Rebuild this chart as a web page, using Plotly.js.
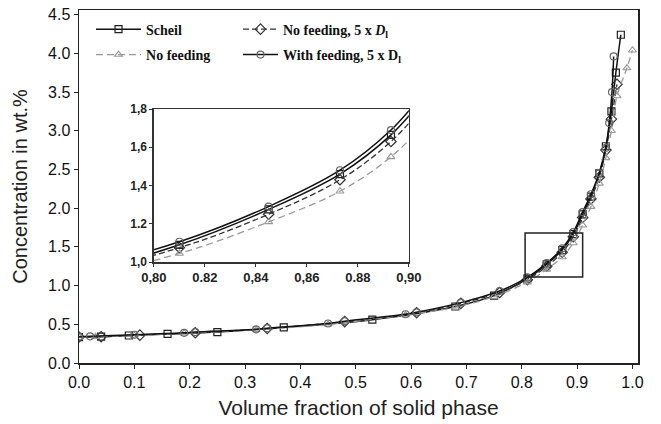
<!DOCTYPE html>
<html>
<head>
<meta charset="utf-8">
<script src="https://cdn.plot.ly/plotly-3.0.1.min.js"></script>
<style>html,body{margin:0;padding:0;background:#fff}#chart{width:661px;height:424px}</style>
</head>
<body>
<div id="chart"></div>
<script>
// ---- data ----
const scheilX = [0.0, 0.04, 0.09, 0.16, 0.25, 0.37, 0.53, 0.68, 0.75, 0.81, 0.845, 0.873, 0.893, 0.91, 0.925, 0.94, 0.952, 0.962, 0.97, 0.979];
const scheilY = [0.335, 0.34, 0.355, 0.375, 0.40, 0.46, 0.56, 0.73, 0.87, 1.09, 1.275, 1.46, 1.665, 1.92, 2.15, 2.45, 2.80, 3.25, 3.75, 4.24];

const feedX = [0.0, 0.02, 0.10, 0.19, 0.21, 0.32, 0.34, 0.45, 0.48, 0.59, 0.61, 0.69, 0.76, 0.81, 0.845, 0.873, 0.893, 0.91, 0.925, 0.94, 0.952, 0.958, 0.963, 0.966];
const feedY = [0.34, 0.345, 0.365, 0.39, 0.40, 0.435, 0.45, 0.51, 0.54, 0.63, 0.655, 0.78, 0.93, 1.106, 1.29, 1.48, 1.69, 1.95, 2.18, 2.45, 2.78, 3.10, 3.50, 3.96];

const nf5X = [0.0, 0.04, 0.11, 0.21, 0.34, 0.48, 0.61, 0.69, 0.76, 0.81, 0.845, 0.873, 0.893, 0.91, 0.925, 0.94, 0.952, 0.962, 0.972];
const nf5Y = [0.335, 0.34, 0.36, 0.39, 0.445, 0.535, 0.65, 0.77, 0.91, 1.075, 1.25, 1.43, 1.63, 1.88, 2.12, 2.40, 2.75, 3.15, 3.60];

const nfX = [0.0, 0.03, 0.10, 0.19, 0.32, 0.45, 0.59, 0.68, 0.75, 0.81, 0.845, 0.873, 0.893, 0.91, 0.925, 0.94, 0.952, 0.962, 0.972, 0.99, 1.0];
const nfY = [0.33, 0.34, 0.355, 0.385, 0.43, 0.50, 0.62, 0.72, 0.86, 1.045, 1.21, 1.37, 1.55, 1.78, 2.02, 2.32, 2.65, 3.00, 3.45, 3.81, 4.04];

const names = ['Scheil', 'No feeding, 5 x <i>D</i><sub>l</sub>', 'No feeding', 'With feeding, 5 x D<sub>l</sub>'];

const xTicks = [0, 0.1, 0.2, 0.3, 0.4, 0.5, 0.6, 0.7, 0.8, 0.9, 1.0];
const yTicks = [0, 0.5, 1.0, 1.5, 2.0, 2.5, 3.0, 3.5, 4.0, 4.5];
const insetXTicks = [0.80, 0.82, 0.84, 0.86, 0.88, 0.90];
const insetXText = ['0,80', '0.82', '0,84', '0,86', '0.88', '0,90'];
const insetYTicks = [1.0, 1.2, 1.4, 1.6, 1.8];
const insetYText = ['1,0', '1.2', '1,4', '1,6', '1,8'];
const zoomBoxX = [0.806, 0.91];
const zoomBoxY = [1.11, 1.68];

// ---- styles ----
const styles = [
  {line: {color: '#111', width: 1.5, dash: 'solid', shape: 'spline'}, marker: {symbol: 'square-open', size: 7, color: '#222', line: {width: 1.2}}, legend: 'legend'},
  {line: {color: '#333', width: 1.3, dash: '6px,3px', shape: 'spline'}, marker: {symbol: 'diamond-open', size: 8, color: '#333', line: {width: 1.2}}, legend: 'legend3'},
  {line: {color: '#999', width: 1.3, dash: '7px,4px', shape: 'spline'}, marker: {symbol: 'triangle-up-open', size: 7, color: '#999', line: {width: 1.1}}, legend: 'legend2'},
  {line: {color: '#111', width: 1.5, dash: 'solid', shape: 'spline'}, marker: {symbol: 'circle-open', size: 7, color: '#666', line: {width: 1.2}}, legend: 'legend4'}
];
const series = [[scheilX, scheilY], [nf5X, nf5Y], [nfX, nfY], [feedX, feedY]];

const traces = [];
series.forEach((s, i) => {
  traces.push({x: s[0], y: s[1], name: names[i], mode: 'lines+markers', type: 'scatter',
    line: styles[i].line, marker: styles[i].marker, legend: styles[i].legend, xaxis: 'x', yaxis: 'y'});
});
series.forEach((s, i) => {
  traces.push({x: s[0], y: s[1], name: names[i], mode: 'lines+markers', type: 'scatter', showlegend: false,
    line: styles[i].line, marker: styles[i].marker, xaxis: 'x2', yaxis: 'y2'});
});

const sans = 'Liberation Sans, Arial, sans-serif';
const axFont = {family: sans, size: 16, color: '#111'};
const insetXFont = {family: sans, size: 13, color: '#222', weight: 'bold'};
const insetYFont = {family: sans, size: 12, color: '#222', weight: 'bold'};
const legFont = {family: 'Liberation Serif, Times New Roman, serif', size: 14, color: '#111', weight: 'bold'};

function leg(x, y, iw) {
  return {x: x, y: y, xanchor: 'left', yanchor: 'top', orientation: 'v', bgcolor: 'rgba(0,0,0,0)', font: legFont, itemwidth: iw};
}

const layout = {
  width: 661, height: 424,
  margin: {l: 79, r: 23, t: 10, b: 61},
  paper_bgcolor: '#fff', plot_bgcolor: '#fff',
  showlegend: true,
  xaxis: {range: [0, 1.01], tickvals: xTicks, tickformat: '.1f', showgrid: false, zeroline: false,
    showline: true, mirror: true, linecolor: '#222', linewidth: 1.5, ticks: 'outside', ticklen: 4, tickcolor: '#222',
    tickfont: axFont, title: {text: 'Volume fraction of solid phase', font: {family: sans, size: 21, color: '#222'}, standoff: 10}},
  yaxis: {range: [0, 4.56], tickvals: yTicks, tickformat: '.1f', showgrid: false, zeroline: false,
    showline: true, mirror: true, linecolor: '#222', linewidth: 1.5, ticks: 'outside', ticklen: 4, tickcolor: '#222',
    tickfont: axFont, title: {text: 'Concentration in wt.%', font: {family: sans, size: 20, color: '#222'}, standoff: 15}},
  xaxis2: {domain: [0.134, 0.590], anchor: 'y2', range: [0.8, 0.9], tickvals: insetXTicks, ticktext: insetXText,
    showgrid: false, zeroline: false, showline: true, mirror: true, linecolor: '#333', linewidth: 1.5,
    ticks: 'outside', ticklen: 3, tickcolor: '#333', tickfont: insetXFont},
  yaxis2: {domain: [0.286, 0.7195], anchor: 'x2', range: [1.0, 1.8], tickvals: insetYTicks, ticktext: insetYText,
    showgrid: false, zeroline: false, showline: true, mirror: true, linecolor: '#333', linewidth: 1.5,
    ticks: 'outside', ticklen: 3, tickcolor: '#333', tickfont: insetYFont},
  legend: leg(0.0215, 0.99, 45),
  legend2: leg(0.0215, 0.918, 45),
  legend3: leg(0.2844, 0.99, 35),
  legend4: leg(0.2844, 0.918, 35),
  shapes: [{type: 'rect', xref: 'x', yref: 'y', x0: zoomBoxX[0], x1: zoomBoxX[1], y0: zoomBoxY[0], y1: zoomBoxY[1], line: {color: '#222', width: 1.5}}]
};

Plotly.newPlot('chart', traces, layout, {staticPlot: true, displayModeBar: false});
</script>
</body>
</html>
